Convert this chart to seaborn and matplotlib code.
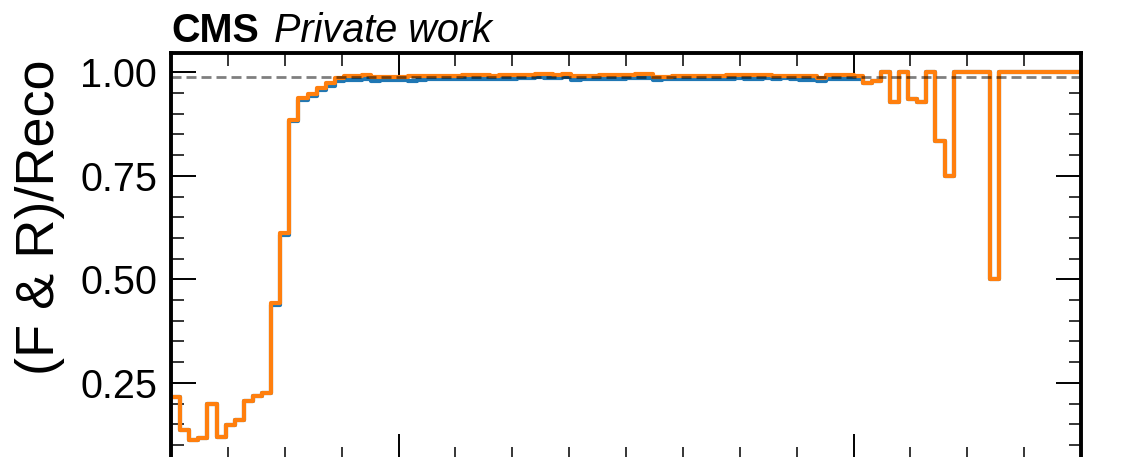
import numpy as np
import pandas as pd
import matplotlib
matplotlib.use("Agg")
import matplotlib.pyplot as plt
from matplotlib.ticker import FixedLocator, MultipleLocator, NullFormatter
import seaborn as sns

# ---------------- data ----------------
bin_edges = list(np.linspace(0.0, 16.0, 101))

orange_vals = [
    0.216, 0.136, 0.112, 0.116, 0.200, 0.120, 0.148, 0.160, 0.207, 0.218,
    0.226, 0.442, 0.611, 0.885, 0.937, 0.947, 0.963, 0.975, 0.987, 0.991,
    0.990, 0.994, 0.988, 0.989, 0.988, 0.989, 0.990, 0.991, 0.991, 0.992,
    0.991, 0.992, 0.994, 0.994, 0.993, 0.992, 0.993, 0.993, 0.994, 0.994,
    0.997, 0.996, 0.994, 0.997, 0.991, 0.992, 0.991, 0.993, 0.993, 0.993,
    0.994, 0.996, 0.995, 0.988, 0.989, 0.991, 0.992, 0.991, 0.992, 0.991,
    0.992, 0.993, 0.994, 0.993, 0.993, 0.994, 0.991, 0.992, 0.991, 0.990,
    0.990, 0.987, 0.993, 0.994, 0.993, 0.990, 0.973, 0.980, 1.000, 0.928,
    1.000, 0.935, 0.928, 1.000, 0.834, 0.750, 1.000, 1.000, 1.000, 1.000,
    0.500, 1.000, 1.000, 1.000, 1.000, 1.000, 1.000, 1.000, 1.000, 1.000,
]

blue_vals = [
    0.216, 0.136, 0.112, 0.116, 0.200, 0.120, 0.148, 0.160, 0.207, 0.218,
    0.226, 0.438, 0.607, 0.882, 0.933, 0.943, 0.957, 0.968, 0.979, 0.982,
    0.981, 0.984, 0.980, 0.981, 0.981, 0.982, 0.978, 0.982, 0.983, 0.983,
    0.983, 0.984, 0.985, 0.985, 0.985, 0.984, 0.985, 0.985, 0.986, 0.986,
    0.988, 0.987, 0.986, 0.988, 0.982, 0.984, 0.984, 0.985, 0.985, 0.985,
    0.986, 0.987, 0.986, 0.982, 0.983, 0.984, 0.984, 0.984, 0.983, 0.983,
    0.984, 0.985, 0.986, 0.985, 0.985, 0.986, 0.985, 0.986, 0.985, 0.981,
    0.981, 0.978, 0.985, 0.985, 0.985, 0.985, 0.973, 0.980, 1.000, 0.928,
    1.000, 0.935, 0.928, 1.000, 0.834, 0.750, 1.000, 1.000, 1.000, 1.000,
    0.500, 1.000, 1.000, 1.000, 1.000, 1.000, 1.000, 1.000, 1.000, 1.000,
]

ref_level = 0.989
y_major_ticks = [0.25, 0.50, 0.75, 1.00]
y_tick_labels = ["0.25", "0.50", "0.75", "1.00"]
x_major_ticks = [4.0, 12.0]
y_label = "(F & R)/Reco"
exp_label = "CMS"
extra_label = "Private work"

# ---------------- style ----------------
sns.set_style("ticks")
plt.rcParams["font.family"] = ["Liberation Sans", "DejaVu Sans"]
plt.rcParams.update({
    "text.color": "black",
    "axes.labelcolor": "black",
    "xtick.color": "black",
    "ytick.color": "black",
    "axes.edgecolor": "black",
})

W, H = 1122, 457
fig = plt.figure(figsize=(W / 100, H / 100), dpi=100)
left_px, right_px, top_px, bottom_px = 171, 1081, 53, 459
ax = fig.add_axes([left_px / W, (H - bottom_px) / H,
                   (right_px - left_px) / W, (bottom_px - top_px) / H])

centers = [0.5 * (a + b) for a, b in zip(bin_edges[:-1], bin_edges[1:])]
df = pd.DataFrame({"x": centers, "blue": blue_vals, "orange": orange_vals})

sns.histplot(data=df, x="x", weights="blue", bins=bin_edges, element="step",
             fill=False, color="#1f77b4", linewidth=3.0, ax=ax)
sns.histplot(data=df, x="x", weights="orange", bins=bin_edges, element="step",
             fill=False, color="#ff7f0e", linewidth=3.0, ax=ax)

ax.axhline(ref_level, color="black", alpha=0.5, linewidth=2.0,
           linestyle=(0, (3.6, 1.8)), zorder=3)

ax.set_xlim(bin_edges[0], bin_edges[-1])
ax.set_ylim(0.066, 1.0466)

ax.yaxis.set_major_locator(FixedLocator(y_major_ticks))
ax.set_yticklabels(y_tick_labels)
ax.yaxis.set_minor_locator(MultipleLocator(0.05))
ax.xaxis.set_major_locator(FixedLocator(x_major_ticks))
ax.xaxis.set_minor_locator(MultipleLocator(1.0))
ax.xaxis.set_major_formatter(NullFormatter())

ax.tick_params(which="major", direction="in", length=18, width=1.4,
               top=True, right=True, bottom=True, left=True,
               labelsize=28.5, pad=10, labelbottom=False, colors="black")
ax.tick_params(which="minor", direction="in", length=9, width=1.1,
               top=True, right=True, bottom=True, left=True, colors="black")
for s in ax.spines.values():
    s.set_linewidth(2.8)
    s.set_color("black")
    s.set_zorder(4)

ax.set_xlabel("")
ax.set_ylabel(y_label, fontsize=39, loc="top", color="black")
ax.yaxis.set_label_coords(-0.1165, 0.983)

cms = ax.text(0.0, 1.028, exp_label, transform=ax.transAxes, fontsize=28.5,
              fontweight="bold", ha="left", va="baseline", color="black")
ax.annotate(extra_label, xy=(1, 0), xycoords=cms, xytext=(11, 0),
            textcoords="offset points", fontsize=28.5, fontstyle="italic",
            ha="left", va="bottom", color="black")

fig.savefig("out.png", dpi=100)
